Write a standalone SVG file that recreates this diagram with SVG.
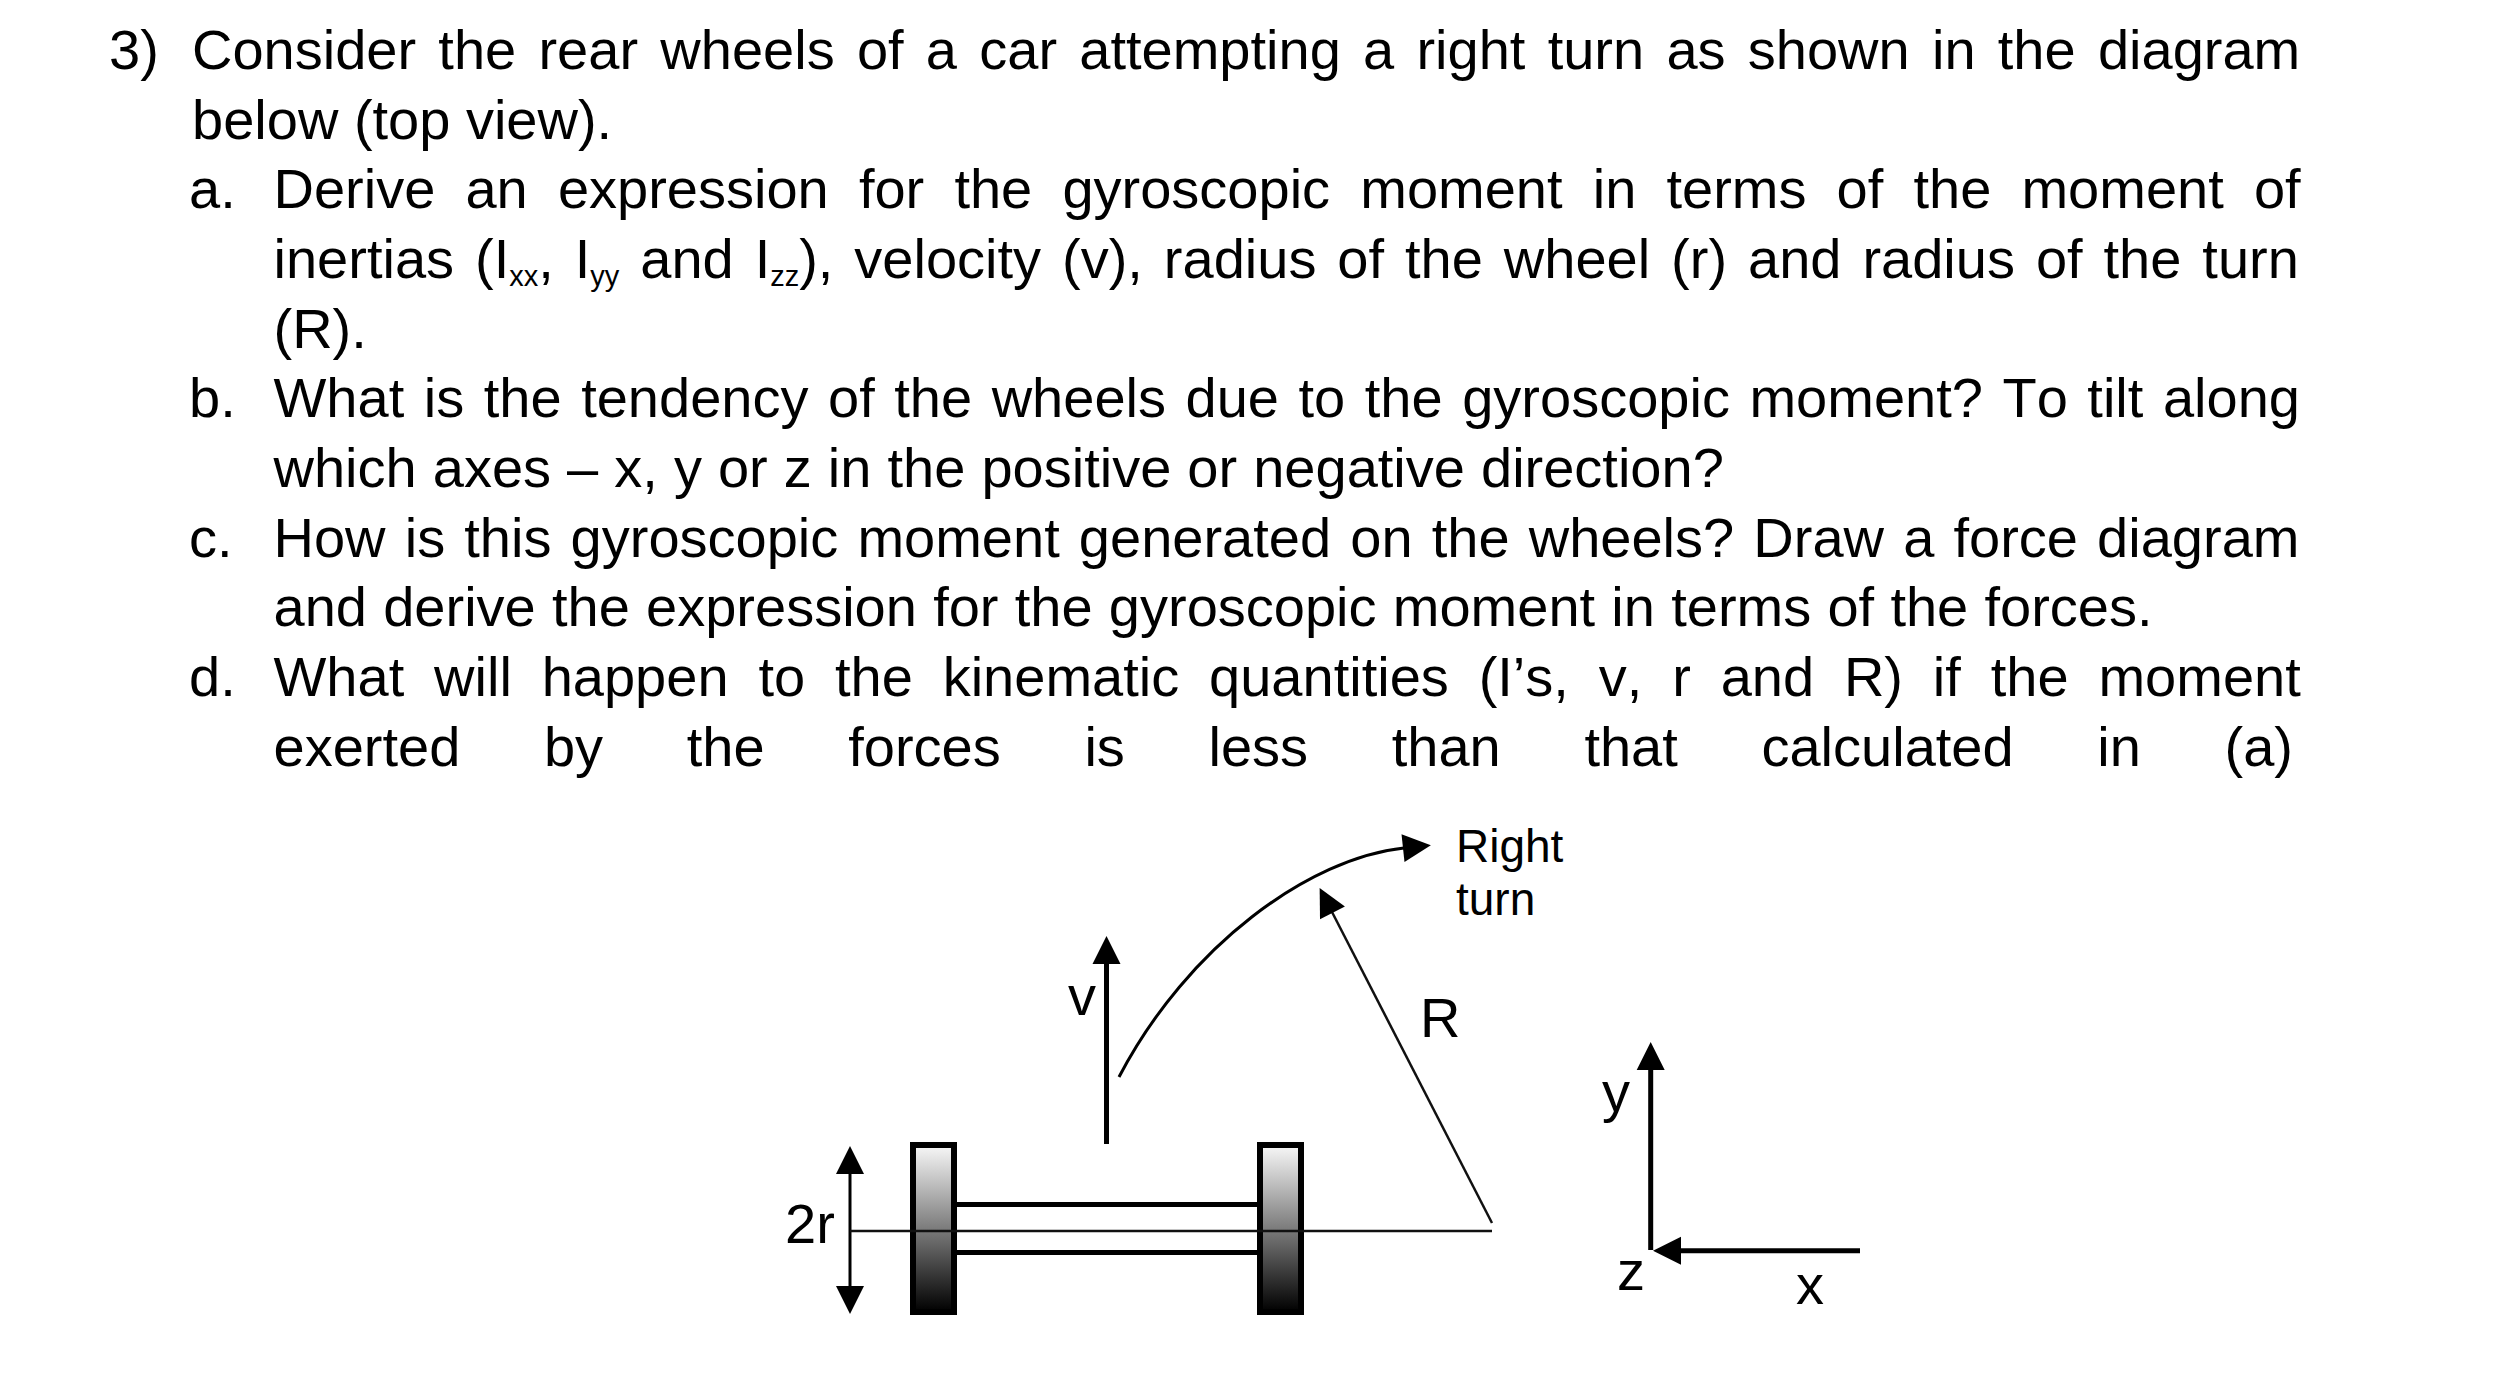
<svg xmlns="http://www.w3.org/2000/svg" width="2508" height="1400" viewBox="0 0 2508 1400">
<style>
text{font-family:"Liberation Sans",Arial,sans-serif;fill:#000;white-space:pre;font-kerning:none}
.q{font-size:56px}
.sub{font-size:29px}
.lab{font-size:56px}
.small{font-size:46px}
.wheel{fill:url(#wg);stroke:#000;stroke-width:6}
.ax{stroke:#000;stroke-width:5;fill:none}
.thin{stroke:#111;stroke-width:2.5;fill:none}
.line3{stroke:#000;stroke-width:3;fill:none}
.arr{marker-end:url(#ah)}
.both{marker-start:url(#ah);marker-end:url(#ah)}
</style>
<defs>
<marker id="ah" markerUnits="userSpaceOnUse" markerWidth="28" markerHeight="28" refX="1" refY="14" orient="auto-start-reverse" overflow="visible"><path d="M0 0L28 14L0 28z" fill="#000"/></marker>
<linearGradient id="wg" x1="0" y1="0" x2="0" y2="1"><stop offset="0" stop-color="#f8f8f8"/><stop offset="1" stop-color="#000"/></linearGradient>
</defs>
<rect width="2508" height="1400" fill="#fff"/>
<g id="question">
<text class="q" x="109" y="69">3)</text>
<text class="q" x="192" y="69" word-spacing="6.7">Consider the rear wheels of a car attempting a right turn as shown in the diagram</text>
<text class="q" x="192" y="139">below (top view).</text>
<text class="q" x="189" y="208">a.</text>
<text class="q" x="273.500" y="208" word-spacing="14.6">Derive an expression for the gyroscopic moment in terms of the moment of</text>
<text class="q" x="273.500" y="278" word-spacing="5.4">inertias (I<tspan class="sub" dy="8">xx</tspan><tspan dy="-8">, I</tspan><tspan class="sub" dy="8">yy</tspan><tspan dy="-8"> and I</tspan><tspan class="sub" dy="8">zz</tspan><tspan dy="-8">), velocity (v), radius of the wheel (r) and radius of the turn</tspan></text>
<text class="q" x="273.500" y="348">(R).</text>
<text class="q" x="189" y="417">b.</text>
<text class="q" x="273.500" y="417" word-spacing="4">What is the tendency of the wheels due to the gyroscopic moment? To tilt along</text>
<text class="q" x="273.500" y="487" word-spacing="0.5">which axes – x, y or z in the positive or negative direction?</text>
<text class="q" x="189" y="557">c.</text>
<text class="q" x="273.500" y="557" word-spacing="3.6">How is this gyroscopic moment generated on the wheels? Draw a force diagram</text>
<text class="q" x="273.500" y="626" word-spacing="0.7">and derive the expression for the gyroscopic moment in terms of the forces.</text>
<text class="q" x="189" y="696">d.</text>
<text class="q" x="273.500" y="696" word-spacing="14.3">What will happen to the kinematic quantities (I’s, v, r and R) if the moment</text>
<text class="q" x="273.500" y="766" word-spacing="68.1">exerted by the forces is less than that calculated in (a)</text>
</g>
<g id="connectors">
<path class="line3 arr" d="M1119 1077C1188 945 1310 858 1404 848"/>
<line class="thin arr" x1="1492" y1="1223" x2="1332" y2="912"/>
<line class="ax arr" x1="1106.500" y1="1144" x2="1106.500" y2="963"/>
<line class="line3 both" x1="850" y1="1173" x2="850" y2="1287"/>
<line class="ax arr" x1="1650.700" y1="1250" x2="1650.700" y2="1069"/>
<line class="ax arr" x1="1860" y1="1250.700" x2="1680" y2="1250.700"/>
</g>
<g id="wheel-left"><rect class="wheel" x="913" y="1145" width="41" height="167"/></g>
<g id="wheel-right"><rect class="wheel" x="1260" y="1145" width="41" height="167"/></g>
<g id="axle">
<line class="ax" x1="957" y1="1204.500" x2="1258" y2="1204.500"/>
<line class="ax" x1="957" y1="1252.500" x2="1258" y2="1252.500"/>
<line class="thin" x1="850" y1="1231" x2="1492" y2="1231"/>
</g>
<g id="labels">
<text class="small" x="1456" y="862">Right</text>
<text class="small" x="1456" y="915">turn</text>
<text class="lab" x="1068" y="1015">v</text>
<text class="lab" x="1420" y="1037">R</text>
<text class="lab" x="785" y="1243">2r</text>
<text class="lab" x="1602" y="1111">y</text>
<text class="lab" x="1617" y="1290">z</text>
<text class="lab" x="1796" y="1304">x</text>
</g>
</svg>
